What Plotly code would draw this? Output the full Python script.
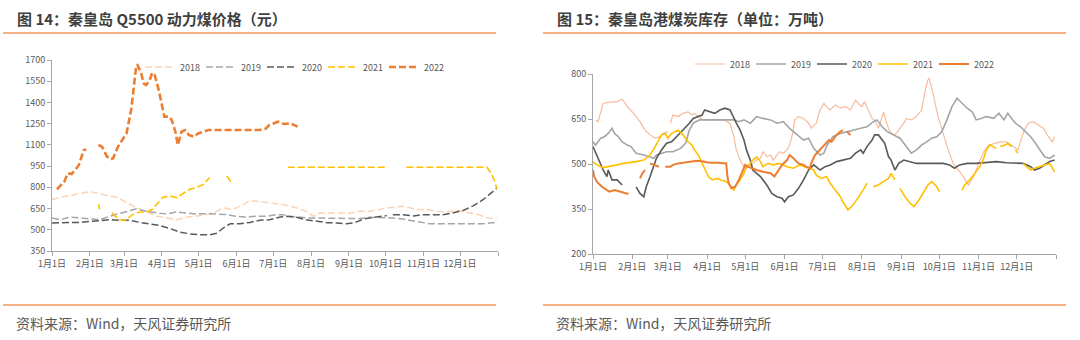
import plotly.graph_objects as go

# ---------------- data: left chart (price, yuan) ----------------
years = ["2018", "2019", "2020", "2021", "2022"]

price_day_2018 = [0,7,15,23,31,39,47,53,58,64,69,75,80,86,94,102,110,118,127,135,140,147,151,157,162,167,176,184,189,195,200,208,214,219,227,236,244,252,260,268,274,282,287,293,298,307,315,323,331,339,347,353,358,364]
price_2018 = [714,731,743,755,769,755,738,731,707,679,655,636,619,595,583,571,588,595,607,631,655,643,655,679,707,702,690,683,679,667,655,631,595,619,619,624,619,631,631,643,655,660,667,655,643,643,631,626,636,624,612,595,579,583]

price_day_2019 = [0,7,15,23,31,39,47,56,64,69,77,86,94,102,110,118,127,135,143,151,159,167,176,184,189,195,203,211,219,227,236,244,252,260,268,274,279,287,296,301,309,317,326,339,353,364]
price_2019 = [583,571,590,583,579,571,595,619,636,648,631,619,612,626,619,612,614,612,607,595,590,595,595,607,607,595,588,583,583,583,579,579,579,588,588,588,583,576,564,555,543,543,543,543,543,552]

price_day_2020 = [0,7,15,23,31,39,47,56,64,72,80,88,97,105,113,121,129,135,140,146,154,162,170,178,187,192,200,208,217,225,233,241,247,255,263,268,274,None,279,287,296,304,312,320,328,337,345,353,358,364]
price_2020 = [548,552,552,552,560,564,571,567,567,552,540,531,507,483,471,464,464,476,512,543,543,552,567,571,590,595,588,571,560,550,548,543,548,576,588,595,600,None,607,607,598,607,607,607,619,638,671,714,750,793]

price_day_2021 = [38,39,None,49,52,56,60,62,67,72,77,82,86,91,97,102,107,113,118,124,127,129,None,143,146,148,None,193,232,264,274,None,290,320,356,359,362,364]
price_2021 = [680,645,None,619,595,571,564,583,612,626,626,643,679,731,738,726,755,786,798,821,850,870,None,880,845,833,None,942,942,942,942,None,942,942,942,905,850,790]

price_day_2022 = [4,10,13,16,20,22,26,28,None,38,41,45,48,50,54,61,65,69,70,73,75,77,80,82,84,87,90,92,96,98,101,103,106,109,112,116,120,125,128,150,170,175,178,185,190,195,201]
price_2022 = [786,840,899,894,935,958,1064,1068,None,1099,1087,1017,998,1005,1087,1182,1358,1665,1665,1606,1535,1523,1559,1610,1594,1500,1382,1300,1300,1276,1193,1099,1193,1205,1170,1158,1182,1193,1205,1205,1205,1215,1241,1264,1248,1252,1229]

# ---------------- data: right chart (stock, 10k t) ----------------
stock_day_2018 = [2,4,8,13,19,23,27,32,37,41,45,49,53,55,59,None,61,63,67,71,75,78,80,83,87,92,98,103,108,111,113,116,119,121,126,129,132,134,137,140,142,145,147,150,153,155,158,159,162,166,170,172,176,179,182,184,187,191,195,199,203,207,209,212,214,217,220,222,225,228,229,232,234,237,239,242,245,247,251,255,259,262,264,265,268,272,276,280,284,288,292,296,300,304,308,312,316,321,326,331,335,339,343,347,351,355,359,362,364]
stock_2018 = [647,641,702,706,708,716,691,669,641,613,597,586,591,602,608,None,636,663,658,669,674,663,669,658,647,647,647,647,636,591,547,513,491,486,502,513,519,541,524,530,513,530,541,536,547,563,613,647,658,652,636,619,636,680,702,691,680,697,686,691,680,713,702,691,708,680,652,647,619,658,674,630,608,597,602,619,636,652,647,658,680,747,780,786,736,658,602,547,502,480,458,430,458,502,541,563,569,574,574,558,547,602,636,641,630,619,591,574,591]

stock_day_2019 = [0,2,6,9,12,15,17,20,23,27,30,34,40,44,48,50,54,58,63,69,73,76,79,84,90,98,105,111,115,119,124,129,134,140,145,150,155,161,166,170,174,179,182,184,189,195,200,205,211,216,221,224,228,232,237,242,247,251,255,259,263,267,271,275,279,283,287,291,295,299,302,306,310,316,320,324,327,330,333,337,341,345,348,352,356,360,364]
stock_2019 = [574,563,586,591,602,619,602,591,574,563,558,536,530,524,519,530,536,541,541,552,569,613,636,647,647,647,647,647,641,647,636,658,652,647,636,641,619,597,580,586,552,530,536,558,591,602,608,613,619,624,641,647,624,608,597,586,558,536,547,563,574,586,591,608,647,691,719,702,686,674,647,652,658,652,669,647,669,652,636,624,608,591,574,547,524,519,530]

stock_day_2020 = [0,2,4,8,11,12,15,19,23,None,34,37,40,42,45,48,50,54,58,62,66,70,74,76,79,83,86,88,92,96,100,104,108,111,113,116,119,121,124,126,132,137,141,145,149,151,154,158,162,166,170,174,179,183,187,192,197,203,207,211,213,216,220,222,225,228,230,233,235,238,241,245,250,255,260,266,271,276,281,285,289,295,302,310,318,326,334,339,345,348,352,356,360,364]
stock_2020 = [558,541,519,480,458,480,447,447,430,None,424,402,391,424,458,491,519,547,569,574,591,608,624,636,652,658,663,680,674,669,680,686,680,652,636,613,580,547,513,480,458,430,402,391,386,374,391,397,419,447,480,497,480,491,497,508,513,519,536,547,536,558,580,597,597,580,569,524,513,480,502,513,508,502,502,502,502,502,497,486,497,502,502,504,508,504,502,502,491,480,486,497,508,513]

stock_day_2021 = [0,3,8,13,19,24,29,34,40,45,49,52,54,57,59,62,65,67,70,73,75,78,80,83,86,88,91,94,98,101,105,108,111,113,116,119,121,124,126,129,132,134,138,142,147,153,158,163,167,171,174,176,180,184,187,191,195,197,201,205,209,213,216,None,221,225,229,233,235,238,None,242,246,250,253,257,260,264,267,271,273,None,291,293,297,301,305,308,310,313,316,318,None,321,325,327,330,None,333,335,None,339,342,345,348,352,356,360,363,364]
stock_2021 = [508,497,488,491,497,502,504,508,513,530,558,580,597,602,586,602,608,613,602,586,574,563,547,530,502,480,458,447,452,447,441,430,413,430,447,469,491,502,513,524,508,491,502,497,502,491,486,497,491,486,480,463,452,458,436,413,391,374,347,363,386,413,436,None,424,430,441,452,469,447,None,419,391,369,358,380,402,430,441,424,408,None,413,430,447,469,491,519,547,563,558,552,None,558,563,569,558,None,547,536,None,502,491,480,486,491,497,502,480,474]

stock_day_2022 = [0,1,3,7,11,13,17,21,25,28,None,37,39,41,None,45,49,52,None,57,61,63,67,71,76,82,87,92,98,103,105,106,107,109,112,115,117,120,122,125,129,134,140,143,146,149,153,155,158,162,166,168,171,172,175,179,182,186,188,192,195,197,None,200,203]
stock_2022 = [480,458,441,424,413,408,413,408,405,400,None,452,469,480,None,502,497,491,None,491,491,497,502,504,508,511,508,504,504,504,502,458,436,419,424,447,469,497,491,486,480,474,469,458,480,497,513,530,519,502,497,491,486,502,530,547,563,580,574,597,608,613,None,608,597]

month_start_days = [0, 31, 59, 90, 120, 151, 181, 212, 243, 273, 304, 334, 365]
month_labels = ["1月1日", "2月1日", "3月1日", "4月1日", "5月1日", "6月1日",
                "7月1日", "8月1日", "9月1日", "10月1日", "11月1日", "12月1日", ""]
price_ticks = [350, 500, 650, 800, 950, 1100, 1250, 1400, 1550, 1700]
stock_ticks = [200, 350, 500, 650, 800]

# ---------------- styles ----------------
left_colors = ["#FCD3B4", "#A6A6A6", "#595959", "#FFC000", "#ED7D31"]
right_colors = ["#F6BB9C", "#A5A5A5", "#595959", "#FFC000", "#ED7D31"]
left_widths = [1.5, 1.5, 1.5, 1.6, 2.6]
right_widths = [1.2, 1.6, 1.6, 1.6, 2.0]

CJK = "Noto Sans CJK SC"
W, H = 1080, 340

left_x = [price_day_2018, price_day_2019, price_day_2020, price_day_2021, price_day_2022]
left_y = [price_2018, price_2019, price_2020, price_2021, price_2022]
right_x = [stock_day_2018, stock_day_2019, stock_day_2020, stock_day_2021, stock_day_2022]
right_y = [stock_2018, stock_2019, stock_2020, stock_2021, stock_2022]

fig = go.Figure()
for i, yr in enumerate(years):
    fig.add_trace(go.Scatter(
        x=left_x[i], y=left_y[i], name=yr, mode="lines",
        line=dict(color=left_colors[i], width=left_widths[i], dash="7px,3px"),
        xaxis="x", yaxis="y", legend="legend", connectgaps=False,
        hoverinfo="skip"))
for i, yr in enumerate(years):
    fig.add_trace(go.Scatter(
        x=right_x[i], y=right_y[i], name=yr, mode="lines",
        line=dict(color=right_colors[i], width=right_widths[i]),
        xaxis="x2", yaxis="y2", legend="legend2", connectgaps=False,
        hoverinfo="skip"))

axis_common = dict(showgrid=False, zeroline=False, showline=True,
                   linecolor="#A6A6A6", linewidth=1, ticks="outside",
                   tickcolor="#A6A6A6", ticklen=4, tickangle=0,
                   tickfont=dict(family=CJK, size=9, color="#595959"))

legend_common = dict(orientation="h", xanchor="left", yanchor="middle",
                     bgcolor="rgba(0,0,0,0)",
                     font=dict(family=CJK, size=9, color="#595959"),
                     itemwidth=30, tracegroupgap=0,
                     entrywidth=16, entrywidthmode="pixels")

fig.update_layout(
    width=W, height=H,
    margin=dict(l=0, r=0, t=0, b=0, autoexpand=False),
    paper_bgcolor="white", plot_bgcolor="white",
    showlegend=True,
    xaxis=dict(domain=[52 / W, 498 / W], range=[0, 365], anchor="y",
               tickmode="array", tickvals=month_start_days, ticktext=month_labels,
               **axis_common),
    yaxis=dict(domain=[1 - 251 / H, 1 - 60 / H], range=[350, 1700], anchor="x",
               tickmode="array", tickvals=price_ticks, **axis_common),
    xaxis2=dict(domain=[593 / W, 1056 / W], range=[0, 365], anchor="y2",
                tickmode="array", tickvals=month_start_days, ticktext=month_labels,
                **axis_common),
    yaxis2=dict(domain=[1 - 254 / H, 1 - 74 / H], range=[200, 800], anchor="x2",
                tickmode="array", tickvals=stock_ticks, **axis_common),
    legend=dict(x=140 / W, y=1 - 67 / H, **legend_common),
    legend2=dict(x=690 / W, y=1 - 64 / H, **legend_common),
)

# header / footer rules
rule = dict(type="line", xref="paper", yref="paper",
            line=dict(color="#F4B183", width=2))
fig.add_shape(**rule, x0=3 / W, x1=496 / W, y0=1 - 33 / H, y1=1 - 33 / H)
fig.add_shape(**rule, x0=3 / W, x1=496 / W, y0=1 - 305 / H, y1=1 - 305 / H)
fig.add_shape(**rule, x0=543 / W, x1=1066 / W, y0=1 - 33 / H, y1=1 - 33 / H)
fig.add_shape(**rule, x0=543 / W, x1=1066 / W, y0=1 - 305 / H, y1=1 - 305 / H)

title_font = dict(family=CJK, size=15, color="#3F3F3F")
src_font = dict(family=CJK, size=14, color="#595959")
fig.add_annotation(text="<b>图 14：秦皇岛 Q5500 动力煤价格（元）</b>", xref="paper", yref="paper",
                   x=15 / W, y=1 - 18 / H, xanchor="left", yanchor="middle",
                   showarrow=False, font=title_font)
fig.add_annotation(text="<b>图 15：秦皇岛港煤炭库存（单位：万吨）</b>", xref="paper", yref="paper",
                   x=555 / W, y=1 - 18 / H, xanchor="left", yanchor="middle",
                   showarrow=False, font=title_font)
fig.add_annotation(text="资料来源：Wind，天风证券研究所", xref="paper", yref="paper",
                   x=14 / W, y=1 - 323 / H, xanchor="left", yanchor="middle",
                   showarrow=False, font=src_font)
fig.add_annotation(text="资料来源：Wind，天风证券研究所", xref="paper", yref="paper",
                   x=554 / W, y=1 - 323 / H, xanchor="left", yanchor="middle",
                   showarrow=False, font=src_font)

fig.write_html("out.html")
